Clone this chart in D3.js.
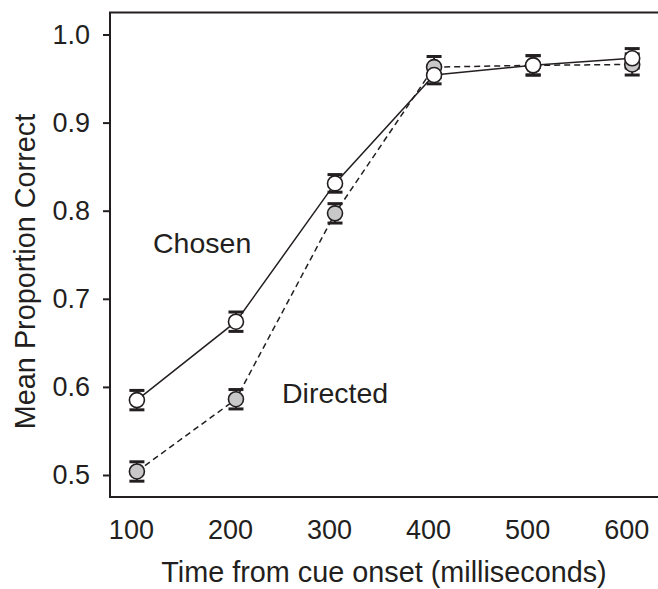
<!DOCTYPE html>
<html>
<head>
<meta charset="utf-8">
<script src="https://cdn.jsdelivr.net/npm/d3@7"></script>
<style>
  html, body { margin: 0; padding: 0; background: #fff; }
  svg { display: block; }
  text { font-family: "Liberation Sans", Arial, Helvetica, sans-serif; fill: #231f20; }
</style>
</head>
<body>
<svg id="chart" width="658" height="589"></svg>
<script>
// ---- data ----
const times = [100, 200, 300, 400, 500, 600];
const xTickLabels = [100, 200, 300, 400, 500, 600];
const yTickValues = [0.5, 0.6, 0.7, 0.8, 0.9, 1.0];
const chosen = [0.585, 0.674, 0.831, 0.954, 0.965, 0.973];
const chosenErr = [0.011, 0.011, 0.010, 0.010, 0.011, 0.011];
const directed = [0.504, 0.586, 0.797, 0.963, 0.965, 0.966];
const directedErr = [0.011, 0.011, 0.011, 0.012, 0.011, 0.012];
const seriesLabels = ["Chosen", "Directed"];
const xTitle = "Time from cue onset (milliseconds)";
const yTitle = "Mean Proportion Correct";

// ---- layout ----
const ink = "#231f20";
const svg = d3.select("#chart");
const x = d3.scaleLinear().domain([100, 600]).range([136.9, 632.2]);
const y = d3.scaleLinear().domain([0.5, 1.0]).range([475, 34.5]);

const frameLeft = 110, frameRight = 658;
const frameTop = y(1.025), frameBottom = y(0.475);

// frame (left, top, bottom)
svg.append("path")
  .attr("d", `M${frameRight},${frameTop}H${frameLeft}V${frameBottom}H${frameRight}`)
  .attr("fill", "none").attr("stroke", ink).attr("stroke-width", 2);

// y axis
const yAxis = svg.append("g")
  .attr("transform", `translate(${frameLeft},0)`)
  .call(d3.axisLeft(y).tickValues(yTickValues).tickFormat(d3.format(".1f")).tickSize(7).tickPadding(13));
yAxis.select(".domain").remove();
yAxis.selectAll(".tick line").attr("stroke", ink).attr("stroke-width", 2);
yAxis.selectAll(".tick text").attr("font-size", 27).attr("fill", ink)
  .style("font-family", "'Liberation Sans', Arial, sans-serif");

// x axis
const xAxis = svg.append("g")
  .attr("transform", `translate(0,${frameBottom})`)
  .call(d3.axisBottom(x).tickValues(xTickLabels).tickFormat(d3.format("d")).tickSize(0).tickPadding(23));
xAxis.select(".domain").remove();
xAxis.selectAll(".tick text").attr("font-size", 27).attr("fill", ink).attr("dx", -6)
  .style("font-family", "'Liberation Sans', Arial, sans-serif");

// titles
svg.append("text").attr("x", 384).attr("y", 582).attr("text-anchor", "middle")
  .attr("font-size", 28.8).text(xTitle);
svg.append("text").attr("transform", "translate(35,271.5) rotate(-90)").attr("text-anchor", "middle")
  .attr("font-size", 28.8).text(yTitle);

// series data
const dChosen = times.map((t, i) => ({ t, v: chosen[i], e: chosenErr[i] }));
const dDirected = times.map((t, i) => ({ t, v: directed[i], e: directedErr[i] }));

const line = d3.line().x(d => x(d.t)).y(d => y(d.v));

svg.append("path").datum(dDirected).attr("d", line)
  .attr("fill", "none").attr("stroke", ink).attr("stroke-width", 1.5).attr("stroke-dasharray", "6,4");
svg.append("path").datum(dChosen).attr("d", line)
  .attr("fill", "none").attr("stroke", ink).attr("stroke-width", 1.5);

function errorBars(data) {
  const g = svg.append("g");
  const capW = 7.5;
  g.selectAll(".v").data(data).join("line")
    .attr("x1", d => x(d.t)).attr("x2", d => x(d.t))
    .attr("y1", d => y(d.v - d.e)).attr("y2", d => y(d.v + d.e))
    .attr("stroke", ink).attr("stroke-width", 2);
  g.selectAll(".hi").data(data).join("line")
    .attr("x1", d => x(d.t) - capW).attr("x2", d => x(d.t) + capW)
    .attr("y1", d => y(d.v + d.e)).attr("y2", d => y(d.v + d.e))
    .attr("stroke", ink).attr("stroke-width", 3);
  g.selectAll(".lo").data(data).join("line")
    .attr("x1", d => x(d.t) - capW).attr("x2", d => x(d.t) + capW)
    .attr("y1", d => y(d.v - d.e)).attr("y2", d => y(d.v - d.e))
    .attr("stroke", ink).attr("stroke-width", 3);
}
errorBars(dDirected);
errorBars(dChosen);

function markers(data, fill) {
  svg.append("g").selectAll("circle").data(data).join("circle")
    .attr("cx", d => x(d.t)).attr("cy", d => y(d.v)).attr("r", 7.5)
    .attr("fill", fill).attr("stroke", ink).attr("stroke-width", 1.6);
}
markers(dDirected, "#c8c8c8");
markers(dChosen, "#ffffff");

// series labels
svg.append("text").attr("x", 153).attr("y", 253).attr("font-size", 28.5).text(seriesLabels[0]);
svg.append("text").attr("x", 282).attr("y", 403).attr("font-size", 28.5).text(seriesLabels[1]);
</script>
</body>
</html>
